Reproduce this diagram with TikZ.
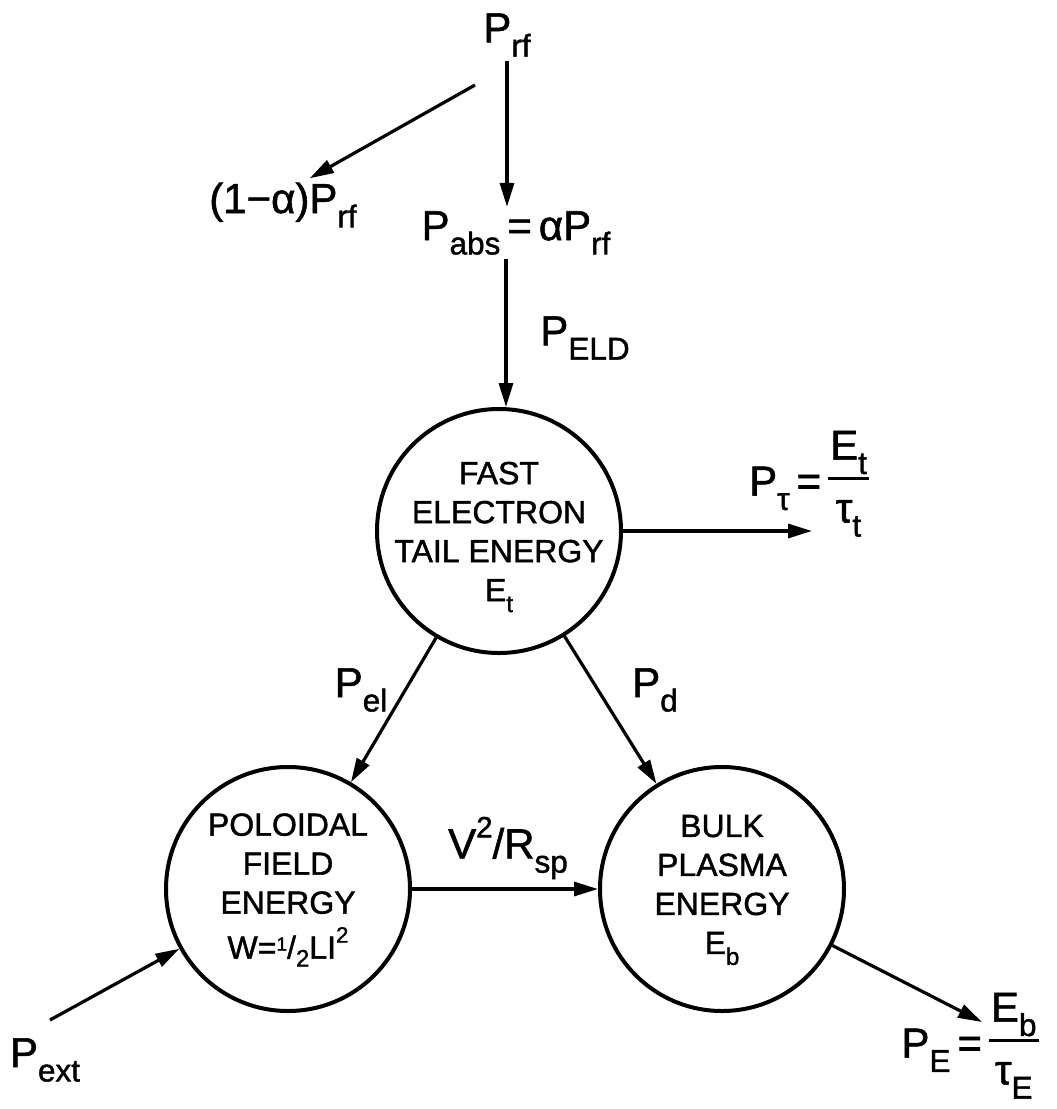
\documentclass[tikz,border=0pt]{standalone}
\usepackage{fontspec}
\usepackage{graphicx}
\setmainfont{Liberation Sans}[FakeBold=1.3]
\usetikzlibrary{arrows.meta}
\newcommand\sbs[1]{\raisebox{-0.34em}{\scalebox{0.75}{#1}}}
\newcommand\sps[1]{\raisebox{0.5em}{\scalebox{0.7}{#1}}}
\newcommand\frc[2]{\raisebox{0.1em}{\setlength\arrayrulewidth{1.8pt}\begin{tabular}{@{\hspace{1pt}}c@{\hspace{1pt}}}#1\\[1pt]\hline\rule{0pt}{1.0em}#2\end{tabular}}}
\newcommand\half{\raisebox{0.25em}{\scalebox{0.6}{1}}/\raisebox{-0.25em}{\scalebox{0.75}{2}}}
\begin{document}
\begin{tikzpicture}[x=0.5pt,y=-0.5pt,
  lbl/.style={font=\fontsize{21}{25}\selectfont, inner sep=2pt},
  energy/.style={circle, draw, line width=2pt, minimum size=122pt, inner sep=0pt},
  ctext/.style={font=\fontsize{16}{19.5}\selectfont, align=center, inner sep=0pt},
  arr/.style={-{Triangle[length=12pt,width=7pt]}, line width=1.6pt}]

\useasboundingbox (0,0) rectangle (1056,1109);

% energy reservoirs
\node[energy] (tc) at (499,531) {};
\node[energy] (lc) at (288,889) {};
\node[energy] (rc) at (722,889) {};
\node[ctext] (tctext) at (499,537) {FAST\\ELECTRON\\TAIL ENERGY\\E\sbs{t}};
\node[ctext] (lctext) at (288,890) {POLOIDAL\\FIELD\\ENERGY\\[3pt]W=\half LI\sps{2}};
\node[ctext] (rctext) at (722,890) {BULK\\PLASMA\\ENERGY\\E\sbs{b}};

% labels
\node[lbl] (prf) at (507,35) {P\sbs{rf}};
\node[lbl] (pabs) at (516,233) {P\sbs{abs}\,=\,αP\sbs{rf}};
\node[lbl] (loss) at (283,205) {(1−α)P\sbs{rf}};
\node[lbl] (peld) at (585,338) {P\sbs{ELD}};
\node[lbl] (ptau) at (809,481) {P\sbs{τ}\,=\,\frc{E\sbs{t}}{τ\sbs{t}}};
\node[lbl] (pel) at (361,690) {P\sbs{el}};
\node[lbl] (pd) at (655,690) {P\sbs{d}};
\node[lbl] (vr) at (508,848) {V\sps{2}/R\sbs{sp}};
\node[lbl] (pext) at (45,1060) {P\sbs{ext}};
\node[lbl] (pe) at (970,1043) {P\sbs{E}\,=\,\frc{E\sbs{b}}{τ\sbs{E}}};

% free ends
\coordinate (ax) at (506,0);
\coordinate (a1) at (475,85);
\coordinate (ptend) at (812,531);
\coordinate (pxs) at (50,1020);
\coordinate (pee) at (982,1022);

% connectors
\draw[arr] (prf.south) -- (prf.south |- pabs.north);
\draw[arr] (a1) -- (loss.45);
\draw[arr] (pabs.south -| ax) -- (tc.north -| ax);
\draw[arr] (tc.east) -- (ptend);
\draw[arr] (tc) -- (lc);
\draw[arr] (tc) -- (rc);
\draw[arr] (lc) -- (rc);
\draw[arr] (pxs) -- (lc);
\draw[arr] (rc) -- (pee);
\end{tikzpicture}
\end{document}
